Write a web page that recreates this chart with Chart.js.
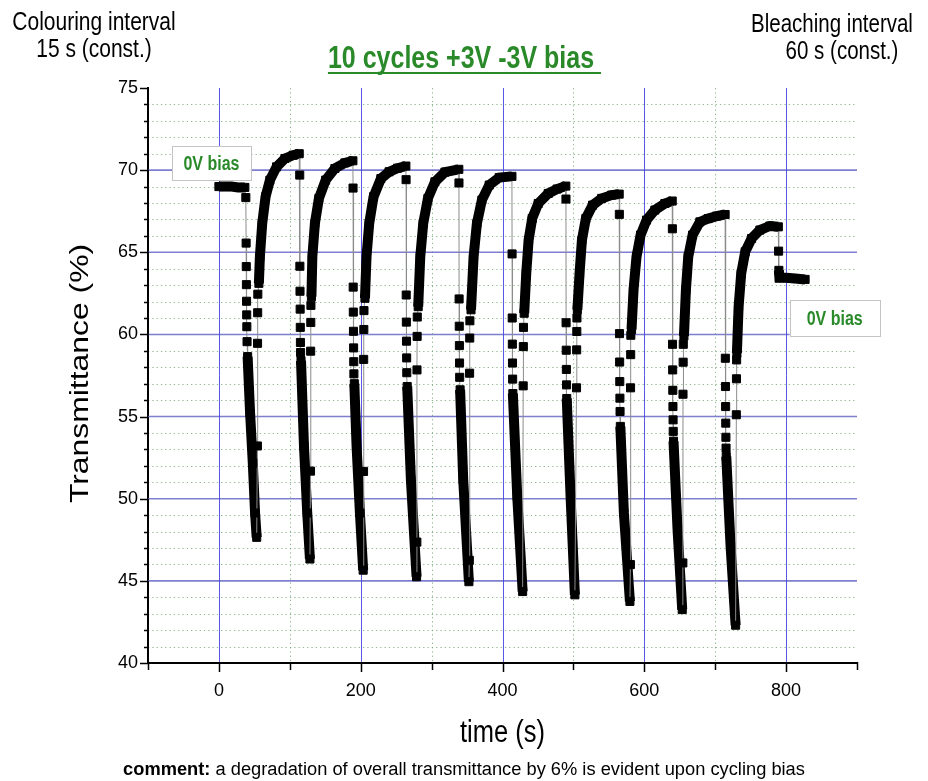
<!DOCTYPE html>
<html>
<head>
<meta charset="utf-8">
<title>10 cycles +3V -3V bias</title>
<script src="https://cdn.jsdelivr.net/npm/chart.js@4.4.1/dist/chart.umd.min.js"></script>
<style>
  html, body { margin: 0; padding: 0; background: #fff; }
  canvas { display: block; }
</style>
</head>
<body>
<canvas id="chart" width="928" height="781"></canvas>
<script>
// ---- measured transmittance (%) against time (s) ----
// Each entry is [time, transmittance].

// 0 V bias hold before cycling
const restBefore = [[0, 69.0], [9, 69.0], [18, 69.0], [27, 68.95], [36.6, 68.95]];

// colouring (-3 V): fast first readings, then the slower continuous drop
const colourSteps = [
  [[38.0, 68.33], [38.4, 65.56], [38.6, 64.13], [38.8, 63.03], [39.0, 62.02], [39.2, 61.19], [39.4, 60.47], [39.7, 59.56]],
  [[114.0, 69.70], [114.2, 64.15], [114.4, 62.63], [114.6, 61.54], [114.8, 60.43], [115.0, 59.51], [115.2, 58.90]],
  [[189.2, 68.91], [189.4, 62.88], [189.6, 61.36], [189.8, 60.19], [190.0, 59.18], [190.2, 58.34], [190.4, 57.60]],
  [[264.0, 69.42], [264.2, 62.40], [264.4, 60.75], [264.6, 59.59], [264.8, 58.57], [265.0, 57.67]],
  [[338.6, 69.22], [338.8, 62.16], [339.0, 60.50], [339.2, 59.32], [339.4, 58.26], [339.6, 57.39]],
  [[413.5, 64.90], [413.7, 61.00], [413.9, 59.41], [414.1, 58.26], [414.3, 57.28]],
  [[489.5, 68.24], [489.7, 60.71], [489.9, 59.04], [490.1, 57.87], [490.3, 56.93]],
  [[564.8, 67.31], [565.0, 60.05], [565.2, 58.32], [565.4, 57.13], [565.6, 56.12], [565.8, 55.31]],
  [[639.6, 66.43], [639.8, 59.40], [640.0, 57.84], [640.2, 56.60], [640.4, 55.61], [640.6, 54.80], [640.8, 54.10]],
  [[714.3, 58.55], [714.5, 56.83], [714.7, 55.61], [714.9, 54.60], [715.1, 53.74], [715.3, 53.08]]
];
const colourTraces = [
  [[40.5, 58.65], [44.0, 55.21], [47.8, 52.17], [51.0, 49.13], [53.3, 47.65]],
  [[115.8, 58.40], [120.0, 53.20], [124.6, 49.13], [128.4, 46.33]],
  [[191.0, 57.00], [194.2, 53.18], [198.9, 49.13], [203.5, 45.65]],
  [[265.6, 56.83], [270.8, 51.15], [278.8, 45.25]],
  [[340.2, 56.63], [344.6, 51.15], [352.6, 44.95]],
  [[414.6, 56.40], [420.8, 50.14], [428.4, 44.35]],
  [[490.6, 56.10], [496.0, 50.14], [502.1, 44.15]],
  [[566.2, 54.40], [571.2, 49.13], [579.7, 43.75]],
  [[641.2, 53.50], [646.9, 48.12], [653.5, 43.25]],
  [[715.6, 52.57], [721.7, 47.11], [728.8, 42.30]]
];

// bleaching (+3 V): fast first readings, then the slow recovery
const bleachSteps = [
  [[54.3, 53.21], [54.5, 59.46], [54.7, 61.32], [54.9, 62.45]],
  [[129.2, 51.68], [129.4, 58.98], [129.6, 60.73], [129.8, 61.77]],
  [[204.0, 51.66], [204.2, 58.48], [204.4, 60.30], [204.6, 61.45]],
  [[279.2, 47.36], [279.4, 57.84], [279.6, 59.88], [279.8, 61.06]],
  [[353.2, 46.25], [353.6, 57.64], [353.8, 59.78], [354.0, 60.83]],
  [[429.2, 56.87], [429.4, 59.26], [429.6, 60.43]],
  [[504.4, 56.75], [504.6, 59.06], [504.8, 60.18], [505.0, 61.00]],
  [[580.4, 45.99], [580.6, 56.75], [580.8, 58.77], [581.0, 59.95]],
  [[654.4, 46.09], [654.6, 56.36], [654.8, 58.31], [655.0, 59.40]],
  [[729.8, 55.11], [730.0, 57.30], [730.2, 58.45]]
];
const bleachTraces = [
  [[56.4, 63.11], [57.8, 64.73], [61.1, 66.76], [65.8, 68.38], [71.9, 69.39], [81.3, 70.20], [93.1, 70.71], [104.8, 70.91], [113.3, 71.00]],
  [[130.5, 62.30], [131.8, 64.73], [135.4, 66.76], [141.0, 68.28], [150.5, 69.39], [163.6, 70.10], [177.7, 70.44], [189.0, 70.57]],
  [[206.0, 62.20], [208.2, 64.73], [212.0, 66.76], [218.1, 68.38], [228.5, 69.49], [240.0, 69.90], [252.0, 70.12], [263.7, 70.25]],
  [[281.1, 61.69], [284.0, 64.73], [288.2, 66.76], [294.8, 68.28], [304.7, 69.29], [318.8, 69.88], [338.4, 70.05]],
  [[355.6, 61.50], [359.2, 64.73], [363.9, 66.76], [370.9, 68.18], [381.3, 69.09], [395.4, 69.55], [413.3, 69.62]],
  [[430.6, 61.29], [433.5, 63.72], [436.8, 65.74], [441.9, 67.06], [450.4, 67.97], [464.5, 68.58], [477.0, 68.85], [489.3, 69.03]],
  [[505.6, 61.50], [508.7, 63.72], [512.0, 65.74], [517.6, 67.06], [527.1, 67.87], [539.8, 68.28], [553.9, 68.48], [564.6, 68.54]],
  [[582.0, 60.30], [584.8, 62.71], [589.0, 64.73], [594.7, 66.05], [603.2, 66.96], [614.9, 67.57], [629.0, 67.97], [639.4, 68.12]],
  [[655.9, 59.90], [658.7, 62.71], [662.0, 64.73], [668.1, 66.05], [678.4, 66.85], [690.0, 67.05], [702.0, 67.20], [714.0, 67.30]],
  [[730.6, 58.86], [733.0, 61.69], [736.7, 63.72], [742.3, 65.03], [751.3, 65.84], [763.0, 66.35], [777.1, 66.60], [789.0, 66.55]]
];

// 0 V bias hold after cycling
const restAfterSteps = [[789.4, 65.07]];
const restAfter = [[789.8, 63.90], [790.6, 63.45], [800.0, 63.45], [813.0, 63.40], [826.8, 63.35]];

// axis tick labels
const timeTicks = [0, 200, 400, 600, 800];
const transTicks = [40, 45, 50, 55, 60, 65, 70, 75];

// ---- build the single time series; continuous runs get a trace id ----
const points = [];
const traceId = [];
function addRun(run, id) {
  for (const [t, v] of run) { points.push({ x: t, y: v }); traceId.push(id); }
}
let nextId = 0;
addRun(restBefore, nextId++);
for (let k = 0; k < colourSteps.length; k++) {
  addRun(colourSteps[k], -1);
  addRun(colourTraces[k], nextId++);
  addRun(bleachSteps[k], -1);
  addRun(bleachTraces[k], nextId++);
}
addRun(restAfterSteps, -1);
addRun(restAfter, nextId++);

const inTrace = c => traceId[c.p0DataIndex] >= 0 && traceId[c.p0DataIndex] === traceId[c.p1DataIndex];

const FONT = '"Liberation Sans", Arial, Helvetica, sans-serif';
const TALL = 1.25;           // text in this figure is drawn taller than wide
const GREEN = '#2a8a2a';

function tallText(ctx, str, x, y, size, opt = {}) {
  ctx.save();
  ctx.translate(x, y);
  ctx.scale(1, opt.tall || TALL);
  if (opt.rotate) ctx.rotate(opt.rotate);
  ctx.font = `${opt.weight || 'normal'} ${size}px ${FONT}`;
  ctx.fillStyle = opt.color || '#000';
  ctx.textAlign = opt.align || 'center';
  ctx.textBaseline = 'middle';
  ctx.fillText(str, 0, 0);
  const w = ctx.measureText(str).width;
  ctx.restore();
  return w;
}

function labelBox(chart, x0, x1, y0, y1, text) {
  const { ctx, scales: { x, y } } = chart;
  const l = x.getPixelForValue(x0), r = x.getPixelForValue(x1);
  const t = y.getPixelForValue(y0), b = y.getPixelForValue(y1);
  ctx.save();
  ctx.fillStyle = '#fff';
  ctx.strokeStyle = '#c4c4c4';
  ctx.lineWidth = 1;
  ctx.fillRect(l, t, r - l, b - t);
  ctx.strokeRect(Math.round(l) + 0.5, Math.round(t) + 0.5, Math.round(r - l), Math.round(b - t));
  ctx.restore();
  tallText(ctx, text, (l + r) / 2, (t + b) / 2 + 1, 16, { weight: 'bold', color: GREEN });
}

const figure = {
  id: 'figure',
  beforeDatasetsDraw(chart) {
    const { ctx, chartArea: a, scales: { x, y } } = chart;
    const hLine = (py) => { ctx.beginPath(); ctx.moveTo(a.left, py); ctx.lineTo(a.right, py); ctx.stroke(); };
    const vLine = (px) => { ctx.beginPath(); ctx.moveTo(px, a.top); ctx.lineTo(px, a.bottom); ctx.stroke(); };
    ctx.save();
    // minor dotted grid
    ctx.strokeStyle = 'rgba(110,160,110,0.75)';
    ctx.lineWidth = 1;
    ctx.setLineDash([1.3, 3]);
    for (let v = 41; v < 75; v++) {
      if (v % 5 !== 0) hLine(Math.round(y.getPixelForValue(v)) + 0.5);
    }
    for (let v = 100; v < 900; v += 200) vLine(Math.round(x.getPixelForValue(v)) + 0.5);
    // major grid
    ctx.setLineDash([]);
    ctx.strokeStyle = 'rgba(105,105,200,0.85)';
    ctx.lineWidth = 1.6;
    for (let v = 45; v <= 70; v += 5) hLine(y.getPixelForValue(v));
    ctx.strokeStyle = 'rgba(70,70,225,0.9)';
    ctx.lineWidth = 1;
    for (const v of timeTicks) vLine(Math.round(x.getPixelForValue(v)) + 0.5);
    ctx.restore();
  },
  afterDraw(chart) {
    const { ctx, chartArea: a, scales: { x, y } } = chart;
    ctx.save();
    // axis tick marks
    ctx.strokeStyle = '#000';
    ctx.lineWidth = 1.5;
    for (let v = -100; v <= 900; v += 100) {
      const px = Math.round(x.getPixelForValue(v)) + 0.5;
      const len = timeTicks.includes(v) ? 9 : 7;
      ctx.beginPath(); ctx.moveTo(px, a.bottom - 1); ctx.lineTo(px, a.bottom + len); ctx.stroke();
    }
    for (let v = 40; v <= 75; v++) {
      const py = Math.round(y.getPixelForValue(v)) + 0.5;
      const len = v % 5 === 0 ? 8 : 4;
      ctx.beginPath(); ctx.moveTo(a.left + 1, py); ctx.lineTo(a.left - len, py); ctx.stroke();
    }
    ctx.restore();

    // axis titles
    tallText(ctx, 'time (s)', (a.left + a.right) / 2 + 0, 733, 25.5);
    tallText(ctx, 'Transmittance (%)', 81, (a.top + a.bottom) / 2 - 2, 25.5, { rotate: -Math.PI / 2 });

    // heading and interval notes
    const tw = tallText(ctx, '10 cycles +3V -3V bias', 461, 59, 25, { weight: 'bold', color: GREEN });
    ctx.save();
    ctx.font = `bold 25px ${FONT}`;
    const sp = ctx.measureText(' ').width;
    ctx.fillStyle = GREEN;
    ctx.fillRect(461 - tw / 2, 72, tw + sp, 2);
    ctx.restore();
    tallText(ctx, 'Colouring interval', 94, 23, 21);
    tallText(ctx, '15 s (const.)', 94, 50, 21);
    tallText(ctx, 'Bleaching interval', 832, 25, 20.5);
    tallText(ctx, '60 s (const.)', 842, 52, 20.5);

    // 0 V bias notes
    labelBox(chart, -66, 45, 71.45, 69.4, '0V bias');
    labelBox(chart, 805, 932, 62.1, 59.9, '0V bias');

    // closing remark
    const cSize = 18.3;
    ctx.save();
    ctx.font = `bold ${cSize}px ${FONT}`;
    const head = 'comment:';
    const wHead = ctx.measureText(head).width;
    ctx.font = `normal ${cSize}px ${FONT}`;
    const rest = ' a degradation of overall transmittance by 6% is evident upon cycling bias';
    const wRest = ctx.measureText(rest).width;
    ctx.restore();
    const start = 464 - (wHead + wRest) / 2;
    tallText(ctx, head, start, 770, cSize, { weight: 'bold', align: 'left', tall: 1.05 });
    tallText(ctx, rest, start + wHead, 770, cSize, { align: 'left', tall: 1.05 });
  }
};

Chart.defaults.font.family = FONT;
Chart.defaults.color = '#000';

new Chart(document.getElementById('chart'), {
  type: 'line',
  data: {
    datasets: [{
      data: points,
      borderColor: '#8c8c8c',
      borderWidth: 1,
      borderJoinStyle: 'miter',
      tension: 0,
      fill: false,
      segment: {
        borderColor: c => inTrace(c) ? '#000' : '#8c8c8c',
        borderWidth: c => inTrace(c) ? 10 : 1
      },
      pointStyle: 'rect',
      pointRadius: 5.7,
      pointHoverRadius: 5.7,
      pointBorderWidth: 1,
      pointBackgroundColor: '#000',
      pointBorderColor: '#000'
    }]
  },
  options: {
    responsive: false,
    devicePixelRatio: 1,
    animation: false,
    events: [],
    layout: { padding: { left: 0, top: 88, right: 71, bottom: 58 } },
    plugins: { legend: { display: false }, tooltip: { enabled: false } },
    scales: {
      x: {
        type: 'linear',
        min: -100,
        max: 900,
        afterFit: s => { s.height = 60; },
        grid: { display: false, drawTicks: false },
        border: { display: true, color: '#000', width: 2 },
        ticks: {
          stepSize: 100,
          autoSkip: false,
          maxRotation: 0,
          padding: 17,
          font: { size: 18 },
          callback: v => timeTicks.includes(v) ? String(v) : ''
        }
      },
      y: {
        type: 'linear',
        min: 40,
        max: 75,
        afterFit: s => { s.width = 148; },
        grid: { display: false, drawTicks: false },
        border: { display: true, color: '#000', width: 2 },
        ticks: {
          stepSize: 5,
          padding: 10,
          font: { size: 18 },
          callback: v => transTicks.includes(v) ? String(v) : ''
        }
      }
    }
  },
  plugins: [figure]
});
</script>
</body>
</html>
